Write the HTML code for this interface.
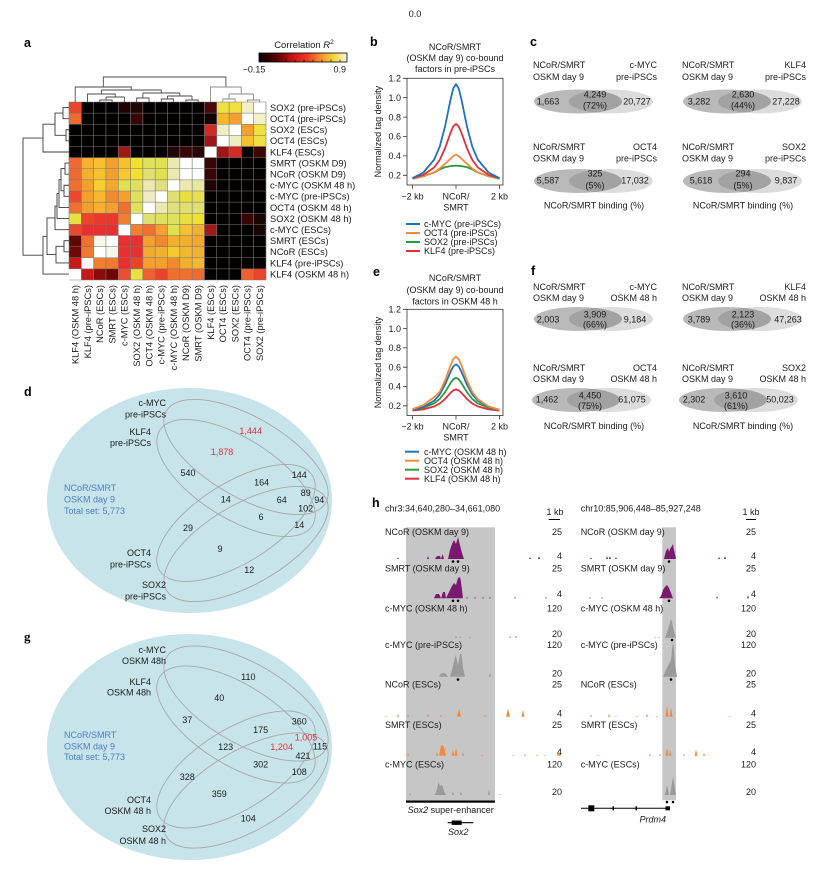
<!DOCTYPE html>
<html><head><meta charset="utf-8"><style>
html,body{margin:0;padding:0;background:#fff;}
svg{display:block;}
text{font-family:"Liberation Sans",Arial,sans-serif;font-size:9px;fill:#1a1a1a;}
.L{font-weight:bold;font-size:12.5px;fill:#000;}
.hm{font-size:9.3px;}
.ctr{text-anchor:middle;}
.end{text-anchor:end;}
.red{fill:#e8313a;}
.blu{fill:#4c7ec4;}
.it{font-style:italic;}
</style></head><body>
<svg width="830" height="877" viewBox="0 0 830 877" xmlns="http://www.w3.org/2000/svg">
<defs>
<linearGradient id="cb" x1="0" x2="1" y1="0" y2="0">
<stop offset="0" stop-color="#000"/><stop offset="0.2" stop-color="#5a0000"/><stop offset="0.4" stop-color="#d01818"/><stop offset="0.55" stop-color="#ee3a20"/><stop offset="0.7" stop-color="#f5902a"/><stop offset="0.85" stop-color="#f0d83a"/><stop offset="1" stop-color="#f8f6e0"/>
</linearGradient>
<clipPath id="cv1"><ellipse cx="611" cy="101.5" rx="42" ry="12"/></clipPath>
<clipPath id="cv2"><ellipse cx="760" cy="101.5" rx="42" ry="12"/></clipPath>
<clipPath id="cv3"><ellipse cx="611" cy="181" rx="42" ry="12"/></clipPath>
<clipPath id="cv4"><ellipse cx="760" cy="181" rx="42" ry="12"/></clipPath>
<clipPath id="cv5"><ellipse cx="611" cy="319" rx="42" ry="12"/></clipPath>
<clipPath id="cv6"><ellipse cx="760" cy="319" rx="42" ry="12"/></clipPath>
<clipPath id="cv7"><ellipse cx="609" cy="400" rx="42" ry="12"/></clipPath>
<clipPath id="cv8"><ellipse cx="756" cy="400" rx="42" ry="12"/></clipPath>
</defs>

<text x="415" y="17" class="ctr">0.0</text>

<!-- ============ PANEL A ============ -->
<text x="24" y="47" class="L">a</text>
<text x="304" y="48" class="ctr" style="font-size:9.5px">Correlation <tspan font-style="italic">R</tspan><tspan dy="-4" style="font-size:6.5px">2</tspan></text>
<rect x="259" y="53" width="88" height="9" fill="url(#cb)" stroke="#000" stroke-width="0.8"/>
<g stroke="#000" stroke-width="0.6">
<line x1="268" y1="62" x2="268" y2="59.5"/><line x1="277" y1="62" x2="277" y2="59.5"/><line x1="286" y1="62" x2="286" y2="59.5"/><line x1="295" y1="62" x2="295" y2="59.5"/><line x1="304" y1="62" x2="304" y2="59.5"/><line x1="313" y1="62" x2="313" y2="59.5"/><line x1="322" y1="62" x2="322" y2="59.5"/><line x1="331" y1="62" x2="331" y2="59.5"/><line x1="340" y1="62" x2="340" y2="59.5"/>
</g>
<text x="254" y="72.5" class="ctr">−0.15</text>
<text x="346" y="72.5" class="end">0.9</text>

<!-- heatmap -->
<g transform="translate(69,102) scale(12.3125,11.125)">
<rect x="0" y="0" width="16" height="16" fill="#050000"/>
<rect x="0" y="0" width="1" height="1" fill="#e8452c"/><rect x="4" y="0" width="1" height="1" fill="#1e0303"/><rect x="5" y="0" width="1" height="1" fill="#220505"/><rect x="11" y="0" width="1" height="1" fill="#4a0808"/><rect x="12" y="0" width="1" height="1" fill="#ede040"/><rect x="13" y="0" width="1" height="1" fill="#ede040"/><rect x="14" y="0" width="1" height="1" fill="#f3f0c8"/><rect x="15" y="0" width="1" height="1" fill="#fff"/>
<rect x="0" y="1" width="1" height="1" fill="#ee6a30"/><rect x="5" y="1" width="1" height="1" fill="#3a0505"/><rect x="11" y="1" width="1" height="1" fill="#120303"/><rect x="12" y="1" width="1" height="1" fill="#f7b92a"/><rect x="13" y="1" width="1" height="1" fill="#f3a030"/><rect x="14" y="1" width="1" height="1" fill="#fff"/><rect x="15" y="1" width="1" height="1" fill="#f3f0c8"/>
<rect x="11" y="2" width="1" height="1" fill="#d42a25"/><rect x="12" y="2" width="1" height="1" fill="#f0eec0"/><rect x="13" y="2" width="1" height="1" fill="#fff"/><rect x="14" y="2" width="1" height="1" fill="#f3a030"/><rect x="15" y="2" width="1" height="1" fill="#efe040"/>
<rect x="11" y="3" width="1" height="1" fill="#a01515"/><rect x="12" y="3" width="1" height="1" fill="#fff"/><rect x="13" y="3" width="1" height="1" fill="#f0eec0"/><rect x="14" y="3" width="1" height="1" fill="#f7c030"/><rect x="15" y="3" width="1" height="1" fill="#efe040"/>
<rect x="4" y="4" width="1" height="1" fill="#a01a15"/><rect x="8" y="4" width="1" height="1" fill="#200505"/><rect x="9" y="4" width="1" height="1" fill="#3a0505"/><rect x="10" y="4" width="1" height="1" fill="#2a0505"/><rect x="11" y="4" width="1" height="1" fill="#fff"/><rect x="12" y="4" width="1" height="1" fill="#a01515"/><rect x="13" y="4" width="1" height="1" fill="#d42a25"/><rect x="15" y="4" width="1" height="1" fill="#400505"/>
<rect x="0" y="5" width="1" height="1" fill="#ee6a30"/><rect x="1" y="5" width="1" height="1" fill="#f7b030"/><rect x="2" y="5" width="1" height="1" fill="#f7c030"/><rect x="3" y="5" width="1" height="1" fill="#f3a030"/><rect x="4" y="5" width="1" height="1" fill="#f7c030"/><rect x="5" y="5" width="1" height="1" fill="#f0e030"/><rect x="6" y="5" width="1" height="1" fill="#e0e060"/><rect x="7" y="5" width="1" height="1" fill="#e0e050"/><rect x="8" y="5" width="1" height="1" fill="#ebe8b0"/><rect x="9" y="5" width="1" height="1" fill="#fff"/><rect x="10" y="5" width="1" height="1" fill="#fff"/><rect x="11" y="5" width="1" height="1" fill="#3a0505"/>
<rect x="0" y="6" width="1" height="1" fill="#ee6a30"/><rect x="1" y="6" width="1" height="1" fill="#f7b030"/><rect x="2" y="6" width="1" height="1" fill="#f7c030"/><rect x="3" y="6" width="1" height="1" fill="#f3a030"/><rect x="4" y="6" width="1" height="1" fill="#f7c830"/><rect x="5" y="6" width="1" height="1" fill="#f0e030"/><rect x="6" y="6" width="1" height="1" fill="#e0e070"/><rect x="7" y="6" width="1" height="1" fill="#e0e050"/><rect x="8" y="6" width="1" height="1" fill="#ebe8b0"/><rect x="9" y="6" width="1" height="1" fill="#fff"/><rect x="10" y="6" width="1" height="1" fill="#fff"/><rect x="11" y="6" width="1" height="1" fill="#3a0505"/>
<rect x="0" y="7" width="1" height="1" fill="#ee7030"/><rect x="1" y="7" width="1" height="1" fill="#f3a030"/><rect x="2" y="7" width="1" height="1" fill="#f7d030"/><rect x="3" y="7" width="1" height="1" fill="#f3a830"/><rect x="4" y="7" width="1" height="1" fill="#e0e050"/><rect x="5" y="7" width="1" height="1" fill="#e0e060"/><rect x="6" y="7" width="1" height="1" fill="#ebe8b0"/><rect x="7" y="7" width="1" height="1" fill="#e0e080"/><rect x="8" y="7" width="1" height="1" fill="#fff"/><rect x="9" y="7" width="1" height="1" fill="#ebe8b0"/><rect x="10" y="7" width="1" height="1" fill="#e8e8a0"/><rect x="11" y="7" width="1" height="1" fill="#200505"/>
<rect x="0" y="8" width="1" height="1" fill="#e84a30"/><rect x="1" y="8" width="1" height="1" fill="#f3a030"/><rect x="2" y="8" width="1" height="1" fill="#f7b830"/><rect x="3" y="8" width="1" height="1" fill="#f08a30"/><rect x="4" y="8" width="1" height="1" fill="#f3a030"/><rect x="5" y="8" width="1" height="1" fill="#e0e060"/><rect x="6" y="8" width="1" height="1" fill="#eeecc0"/><rect x="7" y="8" width="1" height="1" fill="#fff"/><rect x="8" y="8" width="1" height="1" fill="#e0e070"/><rect x="9" y="8" width="1" height="1" fill="#e6e040"/><rect x="10" y="8" width="1" height="1" fill="#e6e050"/>
<rect x="0" y="9" width="1" height="1" fill="#ee7030"/><rect x="1" y="9" width="1" height="1" fill="#f3a030"/><rect x="2" y="9" width="1" height="1" fill="#f7b030"/><rect x="3" y="9" width="1" height="1" fill="#f3a030"/><rect x="4" y="9" width="1" height="1" fill="#f07030"/><rect x="5" y="9" width="1" height="1" fill="#e0e060"/><rect x="6" y="9" width="1" height="1" fill="#fff"/><rect x="7" y="9" width="1" height="1" fill="#ebe8b0"/><rect x="8" y="9" width="1" height="1" fill="#e0e080"/><rect x="9" y="9" width="1" height="1" fill="#e0e070"/><rect x="10" y="9" width="1" height="1" fill="#e0e070"/>
<rect x="0" y="10" width="1" height="1" fill="#e8e040"/><rect x="1" y="10" width="1" height="1" fill="#e8452c"/><rect x="2" y="10" width="1" height="1" fill="#e83a2c"/><rect x="3" y="10" width="1" height="1" fill="#e83a2c"/><rect x="4" y="10" width="1" height="1" fill="#f08030"/><rect x="5" y="10" width="1" height="1" fill="#fff"/><rect x="6" y="10" width="1" height="1" fill="#e0e070"/><rect x="7" y="10" width="1" height="1" fill="#e0e060"/><rect x="8" y="10" width="1" height="1" fill="#e0e060"/><rect x="9" y="10" width="1" height="1" fill="#e8e040"/><rect x="10" y="10" width="1" height="1" fill="#f0e030"/><rect x="14" y="10" width="1" height="1" fill="#3a0505"/><rect x="15" y="10" width="1" height="1" fill="#1a0505"/>
<rect x="0" y="11" width="1" height="1" fill="#e84a30"/><rect x="1" y="11" width="1" height="1" fill="#e83030"/><rect x="2" y="11" width="1" height="1" fill="#e83030"/><rect x="3" y="11" width="1" height="1" fill="#e83030"/><rect x="4" y="11" width="1" height="1" fill="#fff"/><rect x="5" y="11" width="1" height="1" fill="#f08030"/><rect x="6" y="11" width="1" height="1" fill="#f07030"/><rect x="7" y="11" width="1" height="1" fill="#f3a030"/><rect x="8" y="11" width="1" height="1" fill="#e0e050"/><rect x="9" y="11" width="1" height="1" fill="#f7c030"/><rect x="10" y="11" width="1" height="1" fill="#f3b030"/><rect x="11" y="11" width="1" height="1" fill="#a01a15"/><rect x="15" y="11" width="1" height="1" fill="#1a0505"/>
<rect x="0" y="12" width="1" height="1" fill="#600505"/><rect x="1" y="12" width="1" height="1" fill="#f07030"/><rect x="2" y="12" width="1" height="1" fill="#f8f6e8"/><rect x="3" y="12" width="1" height="1" fill="#fff"/><rect x="4" y="12" width="1" height="1" fill="#e83030"/><rect x="5" y="12" width="1" height="1" fill="#e83030"/><rect x="6" y="12" width="1" height="1" fill="#f3a030"/><rect x="7" y="12" width="1" height="1" fill="#f08a30"/><rect x="8" y="12" width="1" height="1" fill="#f3b030"/><rect x="9" y="12" width="1" height="1" fill="#f3b030"/><rect x="10" y="12" width="1" height="1" fill="#f3a830"/>
<rect x="0" y="13" width="1" height="1" fill="#700808"/><rect x="1" y="13" width="1" height="1" fill="#f07a30"/><rect x="2" y="13" width="1" height="1" fill="#fff"/><rect x="3" y="13" width="1" height="1" fill="#f8f6e8"/><rect x="4" y="13" width="1" height="1" fill="#e83030"/><rect x="5" y="13" width="1" height="1" fill="#e83030"/><rect x="6" y="13" width="1" height="1" fill="#f3a830"/><rect x="7" y="13" width="1" height="1" fill="#f3b030"/><rect x="8" y="13" width="1" height="1" fill="#f7c830"/><rect x="9" y="13" width="1" height="1" fill="#f3b830"/><rect x="10" y="13" width="1" height="1" fill="#f3b030"/>
<rect x="0" y="14" width="1" height="1" fill="#c41a1a"/><rect x="1" y="14" width="1" height="1" fill="#fff"/><rect x="2" y="14" width="1" height="1" fill="#f08030"/><rect x="3" y="14" width="1" height="1" fill="#f07a30"/><rect x="4" y="14" width="1" height="1" fill="#e83030"/><rect x="5" y="14" width="1" height="1" fill="#e8452c"/><rect x="6" y="14" width="1" height="1" fill="#f3a030"/><rect x="7" y="14" width="1" height="1" fill="#f3a030"/><rect x="8" y="14" width="1" height="1" fill="#f08a30"/><rect x="9" y="14" width="1" height="1" fill="#f3b030"/><rect x="10" y="14" width="1" height="1" fill="#f3b830"/>
<rect x="0" y="15" width="1" height="1" fill="#fff"/><rect x="1" y="15" width="1" height="1" fill="#c41a1a"/><rect x="2" y="15" width="1" height="1" fill="#8a0a0a"/><rect x="3" y="15" width="1" height="1" fill="#700505"/><rect x="4" y="15" width="1" height="1" fill="#e85030"/><rect x="5" y="15" width="1" height="1" fill="#e8e040"/><rect x="6" y="15" width="1" height="1" fill="#f06030"/><rect x="7" y="15" width="1" height="1" fill="#e8452c"/><rect x="8" y="15" width="1" height="1" fill="#f07030"/><rect x="9" y="15" width="1" height="1" fill="#f07030"/><rect x="10" y="15" width="1" height="1" fill="#f06a30"/><rect x="14" y="15" width="1" height="1" fill="#ee6030"/><rect x="15" y="15" width="1" height="1" fill="#e8452c"/>
<g stroke="#7a7a7a" stroke-width="0.6">
<path vector-effect="non-scaling-stroke" d="M1 0V16M2 0V16M3 0V16M4 0V16M5 0V16M6 0V16M7 0V16M8 0V16M9 0V16M10 0V16M11 0V16M12 0V16M13 0V16M14 0V16M15 0V16M16 0V16M0 0H16M0 1H16M0 2H16M0 3H16M0 4H16M0 5H16M0 6H16M0 7H16M0 8H16M0 9H16M0 10H16M0 11H16M0 12H16M0 13H16M0 14H16M0 15H16M0 16H16M0 0V15"/>
</g>
</g>

<!-- top dendrogram -->
<g fill="none" stroke="#4a4a4a" stroke-width="0.9">
<path d="M103.3 87V77H225.9V87"/>
<path d="M75.2 102V87H131.3V90"/>
<path d="M101.4 90V94M161.3 90V93M101.4 90H161.3"/>
<path d="M87.5 102V94H115.2V97"/>
<path d="M106 97V100M124.4 97V102M106 97H124.4"/>
<path d="M99.8 102V100H112.1V102"/>
<path d="M142.9 93H179.8M142.9 93V98M179.8 93V96"/>
<path d="M136.7 102V98H149V102"/>
<path d="M167.5 96H192M167.5 96V99M192 96V100"/>
<path d="M161.3 102V99H173.6V102"/>
<path d="M185.9 102V100H198.2V102"/>
</g>
<g fill="none" stroke="#8a8a8a" stroke-width="0.9">
<path d="M210.5 102V87H241.2V94"/>
<path d="M229 94H253.5M229 94V99M253.5 94V100"/>
<path d="M222.8 102V99H235.1V102"/>
<path d="M247.4 102V100H259.7V102"/>
</g>
<!-- left dendrogram -->
<g fill="none" stroke="#3a3a3a" stroke-width="0.9">
<path d="M43 138.1H23V255.2H43"/>
<path d="M55 124.2H43V152H69"/>
<path d="M63 113.1H55V135.3H66"/>
<path d="M69 107.55H63V118.65H69"/>
<path d="M69 129.75H66V140.85H69"/>
<path d="M47 236.3H43V274.05H69"/>
<path d="M55 217.9H47V254.6H56"/>
<path d="M57 206.1H55V229.65H69"/>
<path d="M59 193.6H57V218.55H69"/>
<path d="M61 179.7H59V207.45H69"/>
<path d="M65 168.6H61V190.8H64"/>
<path d="M69 163.05H65V174.15H69"/>
<path d="M69 185.25H64V196.35H69"/>
<path d="M64 246.3H56V262.95H69"/>
<path d="M69 240.75H64V251.85H69"/>
</g>

<!-- row labels -->
<text x="270" y="110.9" class="hm">SOX2 (pre-iPSCs)</text>
<text x="270" y="122" class="hm">OCT4 (pre-iPSCs)</text>
<text x="270" y="133.1" class="hm">SOX2 (ESCs)</text>
<text x="270" y="144.2" class="hm">OCT4 (ESCs)</text>
<text x="270" y="155.3" class="hm">KLF4 (ESCs)</text>
<text x="270" y="166.4" class="hm">SMRT (OSKM D9)</text>
<text x="270" y="177.5" class="hm">NCoR (OSKM D9)</text>
<text x="270" y="188.6" class="hm">c-MYC (OSKM 48 h)</text>
<text x="270" y="199.7" class="hm">c-MYC (pre-iPSCs)</text>
<text x="270" y="210.8" class="hm">OCT4 (OSKM 48 h)</text>
<text x="270" y="221.9" class="hm">SOX2 (OSKM 48 h)</text>
<text x="270" y="233" class="hm">c-MYC (ESCs)</text>
<text x="270" y="244.1" class="hm">SMRT (ESCs)</text>
<text x="270" y="255.2" class="hm">NCoR (ESCs)</text>
<text x="270" y="266.3" class="hm">KLF4 (pre-iPSCs)</text>
<text x="270" y="277.4" class="hm">KLF4 (OSKM 48 h)</text>
<!-- column labels -->
<text class="hm end" transform="translate(78.5,285) rotate(-90)">KLF4 (OSKM 48 h)</text>
<text class="hm end" transform="translate(90.8,285) rotate(-90)">KLF4 (pre-iPSCs)</text>
<text class="hm end" transform="translate(103.1,285) rotate(-90)">NCoR (ESCs)</text>
<text class="hm end" transform="translate(115.4,285) rotate(-90)">SMRT (ESCs)</text>
<text class="hm end" transform="translate(127.7,285) rotate(-90)">c-MYC (ESCs)</text>
<text class="hm end" transform="translate(140,285) rotate(-90)">SOX2 (OSKM 48 h)</text>
<text class="hm end" transform="translate(152.3,285) rotate(-90)">OCT4 (OSKM 48 h)</text>
<text class="hm end" transform="translate(164.6,285) rotate(-90)">c-MYC (pre-iPSCs)</text>
<text class="hm end" transform="translate(176.9,285) rotate(-90)">c-MYC (OSKM 48 h)</text>
<text class="hm end" transform="translate(189.2,285) rotate(-90)">NCoR (OSKM D9)</text>
<text class="hm end" transform="translate(201.5,285) rotate(-90)">SMRT (OSKM D9)</text>
<text class="hm end" transform="translate(213.8,285) rotate(-90)">KLF4 (ESCs)</text>
<text class="hm end" transform="translate(226.1,285) rotate(-90)">OCT4 (ESCs)</text>
<text class="hm end" transform="translate(238.4,285) rotate(-90)">SOX2 (ESCs)</text>
<text class="hm end" transform="translate(250.7,285) rotate(-90)">OCT4 (pre-iPSCs)</text>
<text class="hm end" transform="translate(263,285) rotate(-90)">SOX2 (pre-iPSCs)</text>

<!-- ============ PANEL B ============ -->
<text x="370" y="46" class="L">b</text>
<text x="455" y="50.2" class="ctr">NCoR/SMRT</text>
<text x="455" y="61.2" class="ctr">(OSKM day 9) co-bound</text>
<text x="455" y="72.2" class="ctr">factors in pre-iPSCs</text>
<rect x="407" y="78.3" width="96" height="106.7" fill="none" stroke="#333" stroke-width="0.8"/>
<g stroke="#333" stroke-width="0.8">
<path d="M403 78.3H407M403 97.7H407M403 117.1H407M403 136.5H407M403 155.9H407M403 175.3H407"/>
<path d="M412.5 185V189M456 185V189M499.5 185V189"/>
</g>
<text x="401" y="81.5" class="end">1.2</text>
<text x="401" y="100.9" class="end">1.0</text>
<text x="401" y="120.3" class="end">0.8</text>
<text x="401" y="139.7" class="end">0.6</text>
<text x="401" y="159.1" class="end">0.4</text>
<text x="401" y="178.5" class="end">0.2</text>
<text transform="translate(381,131.6) rotate(-90)" class="ctr">Normalized tag density</text>
<text x="412.5" y="199.5" class="ctr">−2 kb</text>
<text x="456" y="199.5" class="ctr">NCoR/</text>
<text x="456" y="210.5" class="ctr">SMRT</text>
<text x="499.5" y="199.5" class="ctr">2 kb</text>
<g fill="none" stroke-width="1.8" stroke-linejoin="round">
<polyline stroke="#2a9a3a" points="412.5,178.7 423.4,176.3 434.25,172.4 439.7,169.5 445.1,167.1 450.6,166.1 453.3,165.8 456,165.6 458.7,165.8 461.4,166.1 466.9,167.1 472.3,169.5 477.75,172.4 488.6,176.3 499.5,178.7"/>
<polyline stroke="#f58a3a" points="412.5,178.2 423.4,176.3 434.25,172.4 439.7,168.5 445.1,163.7 450.6,158.7 453.3,156 456,154.6 458.7,156 461.4,158.7 466.9,163.7 472.3,168.5 477.75,172.4 488.6,176.3 499.5,178.2"/>
<polyline stroke="#e0303a" points="412.5,178.2 423.4,174.9 434.25,167.4 439.7,160 445.1,148.1 450.6,132.6 453.3,126.4 456,123.9 458.7,126.4 461.4,132.6 466.9,148.1 472.3,160 477.75,167.4 488.6,174.9 499.5,178.2"/>
<polyline stroke="#1f72b8" points="412.5,178.2 423.4,172.5 434.25,159.5 439.7,146.7 445.1,126.2 450.6,99.3 453.3,88.5 456,84.1 458.7,88.5 461.4,99.3 466.9,126.2 472.3,146.7 477.75,159.5 488.6,172.5 499.5,178.2"/>
</g>
<g stroke-width="2">
<line x1="406" y1="224" x2="420" y2="224" stroke="#1f72b8"/>
<line x1="406" y1="233" x2="420" y2="233" stroke="#f58a3a"/>
<line x1="406" y1="242" x2="420" y2="242" stroke="#2a9a3a"/>
<line x1="406" y1="251" x2="420" y2="251" stroke="#e0303a"/>
</g>
<text x="424" y="227.2">c-MYC (pre-iPSCs)</text>
<text x="424" y="236.2">OCT4 (pre-iPSCs)</text>
<text x="424" y="245.2">SOX2 (pre-iPSCs)</text>
<text x="424" y="254.2">KLF4 (pre-iPSCs)</text>

<!-- ============ PANEL E ============ -->
<text x="373" y="276" class="L">e</text>
<text x="455" y="281" class="ctr">NCoR/SMRT</text>
<text x="455" y="293" class="ctr">(OSKM day 9) co-bound</text>
<text x="455" y="304.3" class="ctr">factors in OSKM 48 h</text>
<rect x="407" y="309.3" width="96" height="106.2" fill="none" stroke="#333" stroke-width="0.8"/>
<g stroke="#333" stroke-width="0.8">
<path d="M403 309.3H407M403 328.6H407M403 347.9H407M403 367.2H407M403 386.5H407M403 405.8H407"/>
<path d="M412.5 415.5V419.5M456 415.5V419.5M499.5 415.5V419.5"/>
</g>
<text x="401" y="312.5" class="end">1.2</text>
<text x="401" y="331.8" class="end">1.0</text>
<text x="401" y="351.1" class="end">0.8</text>
<text x="401" y="370.4" class="end">0.6</text>
<text x="401" y="389.7" class="end">0.4</text>
<text x="401" y="409" class="end">0.2</text>
<text transform="translate(381,362.5) rotate(-90)" class="ctr">Normalized tag density</text>
<text x="412.5" y="429.5" class="ctr">−2 kb</text>
<text x="456" y="429.5" class="ctr">NCoR/</text>
<text x="456" y="440.5" class="ctr">SMRT</text>
<text x="499.5" y="429.5" class="ctr">2 kb</text>
<g fill="none" stroke-width="1.8" stroke-linejoin="round">
<polyline stroke="#e0303a" points="412.5,410.6 423.4,409.4 434.25,406.4 439.7,403.5 445.1,398.9 450.6,392.8 453.3,390.4 456,389.4 458.7,390.4 461.4,392.8 466.9,398.9 472.3,403.5 477.75,406.4 488.6,409.4 499.5,410.6"/>
<polyline stroke="#2a9a3a" points="412.5,409.7 423.4,407.7 434.25,403.3 439.7,399 445.1,392.1 450.6,382.9 453.3,379.3 456,377.8 458.7,379.3 461.4,382.9 466.9,392.1 472.3,399 477.75,403.3 488.6,407.7 499.5,409.7"/>
<polyline stroke="#1f72b8" points="412.5,409.7 423.4,407 434.25,400.6 439.7,394.5 445.1,384.6 450.6,371.6 453.3,366.4 456,364.3 458.7,366.4 461.4,371.6 466.9,384.6 472.3,394.5 477.75,400.6 488.6,407 499.5,409.7"/>
<polyline stroke="#f58a3a" points="412.5,409.2 423.4,405 434.25,397 439.7,391.9 445.1,380.3 450.6,365.2 453.3,359 456,356.6 458.7,359 461.4,365.2 466.9,380.3 472.3,391.9 477.75,399.1 488.6,406.5 499.5,409.7"/>
</g>
<g stroke-width="2">
<line x1="405" y1="451.7" x2="419" y2="451.7" stroke="#1f72b8"/>
<line x1="405" y1="460.7" x2="419" y2="460.7" stroke="#f58a3a"/>
<line x1="405" y1="469.7" x2="419" y2="469.7" stroke="#2a9a3a"/>
<line x1="405" y1="478.7" x2="419" y2="478.7" stroke="#e0303a"/>
</g>
<text x="424" y="454.9">c-MYC (OSKM 48 h)</text>
<text x="424" y="463.9">OCT4 (OSKM 48 h)</text>
<text x="424" y="472.9">SOX2 (OSKM 48 h)</text>
<text x="424" y="481.9">KLF4 (OSKM 48 h)</text>

<!-- ============ PANEL C ============ -->
<text x="530" y="46" class="L">c</text>
<ellipse cx="611" cy="101.5" rx="42" ry="12" fill="#dcdcdc"/>
<ellipse cx="578" cy="101.5" rx="44" ry="12" fill="#b9b9b9"/>
<ellipse cx="578" cy="101.5" rx="44" ry="12" fill="#a2a2a2" clip-path="url(#cv1)"/>
<text x="533" y="68.2">NCoR/SMRT</text><text x="533" y="80.2">OSKM day 9</text>
<text x="657" y="68.2" class="end">c-MYC</text><text x="657" y="80.2" class="end">pre-iPSCs</text>
<text x="548" y="104.3" class="ctr">1,663</text>
<text x="595" y="97.3" class="ctr">4,249</text><text x="595" y="108.5" class="ctr">(72%)</text>
<text x="637" y="104.3" class="ctr">20,727</text>
<ellipse cx="760" cy="101.5" rx="42" ry="12" fill="#dcdcdc"/>
<ellipse cx="727" cy="101.5" rx="44" ry="12" fill="#b9b9b9"/>
<ellipse cx="727" cy="101.5" rx="44" ry="12" fill="#a2a2a2" clip-path="url(#cv2)"/>
<text x="682" y="68.2">NCoR/SMRT</text><text x="682" y="80.2">OSKM day 9</text>
<text x="806" y="68.2" class="end">KLF4</text><text x="806" y="80.2" class="end">pre-iPSCs</text>
<text x="699" y="104.3" class="ctr">3,282</text>
<text x="743" y="97.3" class="ctr">2,630</text><text x="743" y="108.5" class="ctr">(44%)</text>
<text x="786" y="104.3" class="ctr">27,228</text>
<ellipse cx="611" cy="181" rx="42" ry="12" fill="#dcdcdc"/>
<ellipse cx="578" cy="181" rx="44" ry="12" fill="#b9b9b9"/>
<ellipse cx="578" cy="181" rx="44" ry="12" fill="#a2a2a2" clip-path="url(#cv3)"/>
<text x="533" y="150">NCoR/SMRT</text><text x="533" y="161.5">OSKM day 9</text>
<text x="657" y="150" class="end">OCT4</text><text x="657" y="161.5" class="end">pre-iPSCs</text>
<text x="548" y="183.5" class="ctr">5,587</text>
<text x="595" y="176.5" class="ctr">325</text><text x="595" y="188.3" class="ctr">(5%)</text>
<text x="635" y="183.5" class="ctr">17,032</text>
<text x="594" y="208.3" class="ctr">NCoR/SMRT binding (%)</text>
<ellipse cx="760" cy="181" rx="42" ry="12" fill="#dcdcdc"/>
<ellipse cx="727" cy="181" rx="44" ry="12" fill="#b9b9b9"/>
<ellipse cx="727" cy="181" rx="44" ry="12" fill="#a2a2a2" clip-path="url(#cv4)"/>
<text x="682" y="150">NCoR/SMRT</text><text x="682" y="161.5">OSKM day 9</text>
<text x="806" y="150" class="end">SOX2</text><text x="806" y="161.5" class="end">pre-iPSCs</text>
<text x="701" y="183.5" class="ctr">5,618</text>
<text x="743" y="176.5" class="ctr">294</text><text x="743" y="188.3" class="ctr">(5%)</text>
<text x="786" y="183.5" class="ctr">9,837</text>
<text x="743" y="208.3" class="ctr">NCoR/SMRT binding (%)</text>

<!-- ============ PANEL F ============ -->
<text x="531" y="275" class="L">f</text>
<ellipse cx="611" cy="319" rx="42" ry="12" fill="#dcdcdc"/>
<ellipse cx="578" cy="319" rx="44" ry="12" fill="#b9b9b9"/>
<ellipse cx="578" cy="319" rx="44" ry="12" fill="#a2a2a2" clip-path="url(#cv5)"/>
<text x="533" y="290">NCoR/SMRT</text><text x="533" y="301">OSKM day 9</text>
<text x="657" y="290" class="end">c-MYC</text><text x="657" y="301" class="end">OSKM 48 h</text>
<text x="548" y="322.3" class="ctr">2,003</text>
<text x="595" y="317.3" class="ctr">3,909</text><text x="595" y="327.6" class="ctr">(66%)</text>
<text x="635" y="322.3" class="ctr">9,184</text>
<ellipse cx="760" cy="319" rx="42" ry="12" fill="#dcdcdc"/>
<ellipse cx="727" cy="319" rx="44" ry="12" fill="#b9b9b9"/>
<ellipse cx="727" cy="319" rx="44" ry="12" fill="#a2a2a2" clip-path="url(#cv6)"/>
<text x="682" y="290">NCoR/SMRT</text><text x="682" y="301">OSKM day 9</text>
<text x="806" y="290" class="end">KLF4</text><text x="806" y="301" class="end">OSKM 48 h</text>
<text x="699" y="322.3" class="ctr">3,789</text>
<text x="743" y="317.3" class="ctr">2,123</text><text x="743" y="327.6" class="ctr">(36%)</text>
<text x="788" y="322.3" class="ctr">47,263</text>
<ellipse cx="609" cy="400" rx="42" ry="12" fill="#dcdcdc"/>
<ellipse cx="576" cy="400" rx="44" ry="12" fill="#b9b9b9"/>
<ellipse cx="576" cy="400" rx="44" ry="12" fill="#a2a2a2" clip-path="url(#cv7)"/>
<text x="533" y="371">NCoR/SMRT</text><text x="533" y="382">OSKM day 9</text>
<text x="657" y="371" class="end">OCT4</text><text x="657" y="382" class="end">OSKM 48 h</text>
<text x="547" y="402.6" class="ctr">1,462</text>
<text x="590" y="398.3" class="ctr">4,450</text><text x="590" y="409" class="ctr">(75%)</text>
<text x="632" y="402.6" class="ctr">61,075</text>
<text x="594" y="429" class="ctr">NCoR/SMRT binding (%)</text>
<ellipse cx="756" cy="400" rx="42" ry="12" fill="#dcdcdc"/>
<ellipse cx="723" cy="400" rx="44" ry="12" fill="#b9b9b9"/>
<ellipse cx="723" cy="400" rx="44" ry="12" fill="#a2a2a2" clip-path="url(#cv8)"/>
<text x="682" y="371">NCoR/SMRT</text><text x="682" y="382">OSKM day 9</text>
<text x="806" y="371" class="end">SOX2</text><text x="806" y="382" class="end">OSKM 48 h</text>
<text x="694" y="402.6" class="ctr">2,302</text>
<text x="736" y="398.3" class="ctr">3,610</text><text x="736" y="409" class="ctr">(61%)</text>
<text x="780" y="402.6" class="ctr">50,023</text>
<text x="743" y="429" class="ctr">NCoR/SMRT binding (%)</text>

<!-- ============ PANEL D ============ -->
<text x="24" y="396" class="L">d</text>
<ellipse cx="189.5" cy="500.5" rx="142.5" ry="112.5" fill="#c7e4ea"/>
<g fill="none" stroke="#a8a8a8" stroke-width="0.9">
<ellipse cx="246" cy="457" rx="92" ry="40" transform="rotate(30 246 457)"/>
<ellipse cx="236" cy="478" rx="90" ry="40" transform="rotate(32 236 478)"/>
<ellipse cx="236" cy="523" rx="90" ry="40" transform="rotate(-32 236 523)"/>
<ellipse cx="246" cy="544" rx="92" ry="40" transform="rotate(-30 246 544)"/>
</g>
<text x="166" y="406.2" class="end">c-MYC</text><text x="166" y="417.4" class="end">pre-iPSCs</text>
<text x="151" y="434.9" class="end">KLF4</text><text x="151" y="446.2" class="end">pre-iPSCs</text>
<text x="151" y="556.2" class="end">OCT4</text><text x="151" y="567.5" class="end">pre-iPSCs</text>
<text x="166" y="588.2" class="end">SOX2</text><text x="166" y="599.5" class="end">pre-iPSCs</text>
<text x="64" y="491.2" class="blu">NCoR/SMRT</text>
<text x="64" y="502.7" class="blu">OSKM day 9</text>
<text x="64" y="514.2" class="blu">Total set: 5,773</text>
<text x="250.7" y="434.2" class="ctr red">1,444</text>
<text x="222" y="454.9" class="ctr red">1,878</text>
<text x="188" y="475.9" class="ctr">540</text>
<text x="261.7" y="485.5" class="ctr">164</text>
<text x="225.7" y="502.5" class="ctr">14</text>
<text x="281.7" y="503.2" class="ctr">64</text>
<text x="261" y="520.2" class="ctr">6</text>
<text x="188" y="530.9" class="ctr">29</text>
<text x="220" y="551.9" class="ctr">9</text>
<text x="249.3" y="573.2" class="ctr">12</text>
<text x="299.3" y="478.2" class="ctr">144</text>
<text x="305.7" y="495.9" class="ctr">89</text>
<text x="319.3" y="503.2" class="ctr">94</text>
<text x="305.7" y="511.5" class="ctr">102</text>
<text x="299.3" y="528.2" class="ctr">14</text>

<!-- ============ PANEL G ============ -->
<text x="24" y="641" class="L" style="font-family:'Liberation Serif',serif;font-size:13px">g</text>
<ellipse cx="189.5" cy="747" rx="142.5" ry="113" fill="#c7e4ea"/>
<g fill="none" stroke="#a8a8a8" stroke-width="0.9">
<ellipse cx="246" cy="703.5" rx="92" ry="40" transform="rotate(30 246 703.5)"/>
<ellipse cx="236" cy="724.5" rx="90" ry="40" transform="rotate(32 236 724.5)"/>
<ellipse cx="236" cy="769.5" rx="90" ry="40" transform="rotate(-32 236 769.5)"/>
<ellipse cx="246" cy="790.5" rx="92" ry="40" transform="rotate(-30 246 790.5)"/>
</g>
<text x="166" y="653.2" class="end">c-MYC</text><text x="166" y="664" class="end">OSKM 48h</text>
<text x="151" y="685" class="end">KLF4</text><text x="151" y="695.5" class="end">OSKM 48h</text>
<text x="151" y="803.2" class="end">OCT4</text><text x="151" y="814.2" class="end">OSKM 48 h</text>
<text x="166" y="832.2" class="end">SOX2</text><text x="166" y="843.9" class="end">OSKM 48 h</text>
<text x="64" y="738.2" class="blu">NCoR/SMRT</text>
<text x="64" y="749.5" class="blu">OSKM day 9</text>
<text x="64" y="760.2" class="blu">Total set: 5,773</text>
<text x="248.3" y="679.9" class="ctr">110</text>
<text x="219.3" y="700.9" class="ctr">40</text>
<text x="187.3" y="723.2" class="ctr">37</text>
<text x="260.7" y="733.2" class="ctr">175</text>
<text x="225.7" y="749.9" class="ctr">123</text>
<text x="281.7" y="749.9" class="ctr red">1,204</text>
<text x="260.7" y="767.5" class="ctr">302</text>
<text x="187.3" y="779.9" class="ctr">328</text>
<text x="219.3" y="797.2" class="ctr">359</text>
<text x="248.3" y="821.5" class="ctr">104</text>
<text x="299.3" y="724.7" class="ctr">360</text>
<text x="306" y="740.5" class="ctr red">1,005</text>
<text x="320" y="749.5" class="ctr">115</text>
<text x="303" y="759" class="ctr">421</text>
<text x="299.3" y="775" class="ctr">108</text>

<!-- ============ PANEL H ============ -->
<text x="372" y="507" class="L">h</text>
<text x="385" y="511.5">chr3:34,640,280–34,661,080</text>
<text x="580.7" y="511.5">chr10:85,906,448–85,927,248</text>
<text x="555" y="515" class="ctr">1 kb</text>
<line x1="548.7" y1="519.5" x2="560" y2="519.5" stroke="#000" stroke-width="1"/>
<text x="751" y="515" class="ctr">1 kb</text>
<line x1="746" y1="519.5" x2="756" y2="519.5" stroke="#000" stroke-width="1"/>
<rect x="406" y="527.3" width="89" height="274.4" fill="#c6c6c6"/>
<rect x="662.3" y="527.3" width="13.7" height="273" fill="#c6c6c6"/>

<text x="385" y="534.9">NCoR (OSKM day 9)</text>
<text x="385" y="571.5">SMRT (OSKM day 9)</text>
<text x="385" y="611.5">c-MYC (OSKM 48 h)</text>
<text x="385" y="648.2">c-MYC (pre-iPSCs)</text>
<text x="385" y="687.5">NCoR (ESCs)</text>
<text x="385" y="728.2">SMRT (ESCs)</text>
<text x="385" y="767.5">c-MYC (ESCs)</text>
<text x="580.7" y="534.9">NCoR (OSKM day 9)</text>
<text x="580.7" y="571.5">SMRT (OSKM day 9)</text>
<text x="580.7" y="611.5">c-MYC (OSKM 48 h)</text>
<text x="580.7" y="648.2">c-MYC (pre-iPSCs)</text>
<text x="580.7" y="687.5">NCoR (ESCs)</text>
<text x="580.7" y="728.2">SMRT (ESCs)</text>
<text x="580.7" y="767.5">c-MYC (ESCs)</text>
<text x="562" y="534.9" class="end">25</text><text x="562" y="559.2" class="end">4</text>
<text x="562" y="571.5" class="end">25</text><text x="562" y="597.2" class="end">4</text>
<text x="562" y="611.5" class="end">120</text><text x="562" y="637.2" class="end">20</text>
<text x="562" y="648.2" class="end">120</text><text x="562" y="676.5" class="end">20</text>
<text x="562" y="687.5" class="end">25</text><text x="562" y="716.5" class="end">4</text>
<text x="562" y="728.2" class="end">25</text><text x="562" y="754.9" class="end">4</text>
<text x="562" y="767.5" class="end">120</text><text x="562" y="794.9" class="end">20</text>
<text x="756" y="534.9" class="end">25</text><text x="756" y="559.2" class="end">4</text>
<text x="756" y="571.5" class="end">25</text><text x="756" y="597.2" class="end">4</text>
<text x="756" y="611.5" class="end">120</text><text x="756" y="637.2" class="end">20</text>
<text x="756" y="648.2" class="end">120</text><text x="756" y="676.5" class="end">20</text>
<text x="756" y="687.5" class="end">25</text><text x="756" y="716.5" class="end">4</text>
<text x="756" y="728.2" class="end">25</text><text x="756" y="754.9" class="end">4</text>
<text x="756" y="767.5" class="end">120</text><text x="756" y="794.9" class="end">20</text>

<!-- left locus tracks -->
<g fill="#7b1870">
<polygon points="448,559 450,550 452,544 454,540 456,544 458,537 460,545 462,553 464,559"/>
<polygon points="397,559 398,557.5 399,559"/>
<polygon points="427,559 428,556 429,559"/>
<polygon points="435,559 437,556 440,556 441,559"/>
<polygon points="441,559 442.5,554 444,559"/>
<polygon points="529,559 530,557 531,559"/>
<polygon points="538,559 539,556 540,559"/>
<polygon points="446,598.3 448,594 450,590 452,586 454,583 456,585 458,578 460,577 461,582 462,590 463,598.3"/>
<polygon points="434,598.3 436,594 439,594 441,598.3"/>
<polygon points="441,598.3 443,592 445,592 446,598.3"/>
<polygon points="466,598.3 467,597 468,598.3"/>
<polygon points="474,598.3 475,597 476,598.3"/>
<polygon points="482,598.3 483,597 484,598.3"/>
<polygon points="489,598.3 490,597 491,598.3"/>
<polygon points="514,598.3 515,597 516,598.3"/>
<polygon points="545,598.3 546,597 547,598.3"/>
</g>
<circle cx="453" cy="561.5" r="1.3" fill="#000"/><circle cx="458" cy="561.5" r="1.3" fill="#000"/>
<circle cx="453" cy="600.8" r="1.3" fill="#000"/><circle cx="458" cy="600.8" r="1.3" fill="#000"/>
<g fill="#9a9a9a">
<polygon points="455,637.7 456,635.7 457,637.7"/>
<polygon points="459,637.7 460,636.5 461,637.7"/>
<polygon points="469,637.7 470,636.5 471,637.7"/>
<polygon points="509,637.7 510,635.7 511,637.7"/>
<polygon points="515,637.7 516,635.2 517,637.7"/>
<polygon points="450,676.7 452,670 454,662 455.5,655 457,660 458,665 459,660 460,654 461,653 462,658 463,668 465,676.7"/>
<polygon points="439,676.7 441,673.5 444,673 446,674 448,676.7"/>
<polygon points="489,676.7 490,672.7 491,676.7"/>
<polygon points="409,795 410,793 411,795"/>
<polygon points="435,795 437,789 438.5,782 440,786 442,785 444,791 446,795"/>
<polygon points="452,795 453,791 454,795"/>
<polygon points="460,795 461,791 462,795"/>
<polygon points="488,795 489,789 490,795"/>
<polygon points="499,795 500,794 501,795"/>
</g>
<circle cx="458" cy="679.5" r="1.3" fill="#000"/>
<g fill="#f08a3c">
<polygon points="385,716.7 386,715.7 387,716.7"/>
<polygon points="397,716.7 398,713.7 399,716.7"/>
<polygon points="407,716.7 408,713.7 409,716.7"/>
<polygon points="427,716.7 428,713.7 429,716.7"/>
<polygon points="440,716.7 441,714.7 442,716.7"/>
<polygon points="457,716.7 459,708.7 461,716.7"/>
<polygon points="484,716.7 485,714.7 486,716.7"/>
<polygon points="506,716.7 508,708.7 510,716.7"/>
<polygon points="521.5,716.7 523,709.7 524.5,716.7"/>
<polygon points="407,755.7 408,752.7 409,755.7"/>
<polygon points="436,755.7 437,751.7 438,755.7"/>
<polygon points="439,755.7 441,746 442.5,744.7 444,747 446,755.7"/>
<polygon points="451.5,755.7 453,749.7 454.5,755.7"/>
<polygon points="454.5,755.7 456,747.7 457.5,755.7"/>
<polygon points="462,755.7 463,751.7 464,755.7"/>
<polygon points="481,755.7 482,754.7 483,755.7"/>
<polygon points="512,755.7 513,754.7 514,755.7"/>
<polygon points="524,755.7 525,753.7 526,755.7"/>
<polygon points="536,755.7 537,754.7 538,755.7"/>
<polygon points="544,755.7 545,754.7 546,755.7"/>
<polygon points="557,755.7 559,751.7 561,755.7"/>
</g>
<rect x="406" y="800.5" width="89" height="2.2" fill="#000"/>
<text x="450.7" y="813" class="ctr"><tspan class="it">Sox2</tspan> super-enhancer</text>
<line x1="447.7" y1="822.7" x2="473.3" y2="822.7" stroke="#000" stroke-width="1.2"/>
<rect x="451.7" y="820.5" width="10" height="4.4" fill="#000"/>
<text x="458.3" y="835" class="ctr it">Sox2</text>

<!-- right locus tracks -->
<g fill="#7b1870">
<polygon points="664,559 666,551 668,548 669,552 670,549 672,546 673,544 674,550 676,559"/>
<polygon points="590,559 591,557.5 592,559"/>
<polygon points="606,559 607,556 608,559"/>
<polygon points="609,559 610,556 611,559"/>
<polygon points="615,559 616,557 617,559"/>
<polygon points="718,559 719,557 720,559"/>
<polygon points="724,559 725,556 726,559"/>
<polygon points="659,598.3 661,596 663,590 665,587 667,585 669,588 671,593 673,598.3"/>
<polygon points="589,598.3 590,597.3 591,598.3"/>
<polygon points="601,598.3 602,597.3 603,598.3"/>
<polygon points="716,598.3 717,596.3 718,598.3"/>
<polygon points="747,598.3 748,595.3 749,598.3"/>
</g>
<circle cx="669" cy="561.5" r="1.3" fill="#000"/>
<circle cx="669" cy="600.8" r="1.3" fill="#000"/>
<g fill="#9a9a9a">
<polygon points="665,637.7 667,632 669,626 671,619 672,622 674,632 676,637.7"/>
<polygon points="654,637.7 655,636.7 656,637.7"/>
<polygon points="658,637.7 659,636.7 660,637.7"/>
<polygon points="663,676.7 665,672 667,668 669,664 671,660 672,650 673,642 674,650 675,665 677,676.7"/>
<polygon points="665,795 667,785 669,795"/>
<polygon points="670,795 673,777 676,795"/>
</g>
<circle cx="672" cy="640" r="1.3" fill="#000"/>
<circle cx="671" cy="679.5" r="1.3" fill="#000"/>
<circle cx="667" cy="802" r="1.3" fill="#000"/><circle cx="673" cy="802" r="1.3" fill="#000"/>
<g fill="#f08a3c">
<polygon points="665.5,716.7 667,704.7 668.5,716.7"/>
<polygon points="669.5,716.7 671,706.7 672.5,716.7"/>
<polygon points="590,716.7 591,714.7 592,716.7"/>
<polygon points="608,716.7 609,713.7 610,716.7"/>
<polygon points="615,716.7 616,715.7 617,716.7"/>
<polygon points="636,716.7 637,715.7 638,716.7"/>
<polygon points="646,716.7 647,713.7 648,716.7"/>
<polygon points="656,716.7 657,715.7 658,716.7"/>
<polygon points="729,716.7 730,715.7 731,716.7"/>
<polygon points="597,755.7 598,754.7 599,755.7"/>
<polygon points="649,755.7 650,753.7 651,755.7"/>
<polygon points="659,755.7 660,753.7 661,755.7"/>
<polygon points="665.5,755.7 667,747.7 668.5,755.7"/>
<polygon points="669,755.7 670,749.7 671.5,755.7"/>
<polygon points="683,755.7 684,753.7 685,755.7"/>
<polygon points="694.5,755.7 696,749.7 697.5,755.7"/>
<polygon points="703,755.7 704,752.7 705,755.7"/>
</g>
<line x1="581" y1="808.3" x2="670" y2="808.3" stroke="#000" stroke-width="1"/>
<rect x="588.3" y="805.3" width="6" height="6" fill="#000"/>
<rect x="612.5" y="806.3" width="1.5" height="4" fill="#000"/>
<rect x="635.5" y="806.3" width="1.5" height="4" fill="#000"/>
<rect x="665.5" y="806.3" width="4.5" height="4" fill="#000"/>
<text x="652.7" y="822.5" class="ctr it">Prdm4</text>
</svg>
</body></html>
